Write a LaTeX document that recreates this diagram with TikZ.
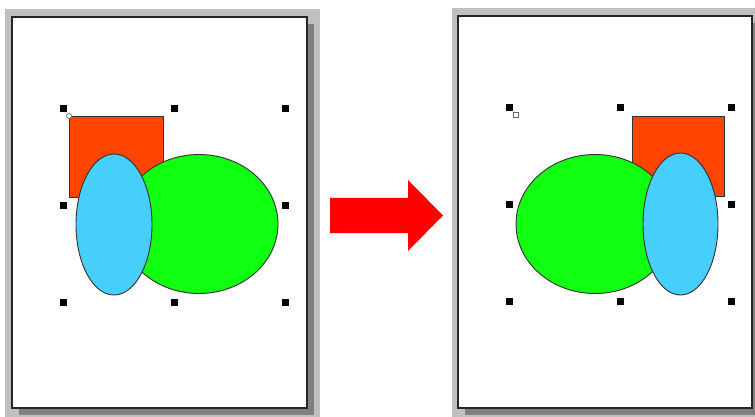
\documentclass[tikz,border=0pt]{standalone}
\usepackage{tikz}
\usetikzlibrary{calc}
\definecolor{framegray}{HTML}{C0C0C0}
\definecolor{shadowgray}{HTML}{808080}
\definecolor{rectred}{HTML}{FF4400}
\definecolor{ovalgreen}{HTML}{11FF11}
\definecolor{ovalblue}{HTML}{47CFFC}
\definecolor{arrowred}{HTML}{FF0000}

\begin{document}
\begin{tikzpicture}[x=0.0265cm, y=-0.0265cm, frame/.style={fill=framegray}, shadowbox/.style={fill=shadowgray}, page/.style={draw=black!85, fill=white, line width=1.1pt}, outline/.style={draw=black!80, line width=0.7pt}, handle/.style={fill=black}]
\useasboundingbox (0,0) rectangle (755,417);
% left panel: before
\fill[frame] (5,9) rectangle (320,417);
\fill[shadowbox] (19,24) rectangle (314,415);
\draw[page] (12,17) rectangle (307,408);
\draw[outline, fill=rectred] (69,116) rectangle (163,197);
\draw[outline, fill=ovalgreen] (199,224) ellipse [x radius=79, y radius=69.5];
\draw[outline, fill=ovalblue] (114,224.5) ellipse [x radius=38, y radius=70.5];
\foreach \hx/\hy in {63/109,174/109,285/109,63/206,285/206,63/302,174/302,285/302}
  \fill[handle] (\hx-3.5,\hy-3.5) rectangle (\hx+3.5,\hy+3.5);
\draw[draw=black!50, fill=white, line width=0.7pt] (69,116) circle [radius=2.5];
% arrow
\fill[arrowred] (330,198) -- (408,198) -- (408,180) -- (443,215.5) -- (408,251) -- (408,233) -- (330,233) -- cycle;
% right panel: after
\fill[frame] (452,8) rectangle (755,417);
\fill[shadowbox] (465,23) rectangle (759,415);
\draw[page] (458,16) rectangle (752,408);
\draw[outline, fill=rectred] (632,116) rectangle (724,196);
\draw[outline, fill=ovalgreen] (595,224) ellipse [x radius=79, y radius=69.5];
\draw[outline, fill=ovalblue] (680.5,224) ellipse [x radius=37.5, y radius=71];
\foreach \hx/\hy in {509/108,620/108,731/108,509/205,731/205,509/301,620/301,731/301}
  \fill[handle] (\hx-3.5,\hy-3.5) rectangle (\hx+3.5,\hy+3.5);
\draw[draw=black!60, fill=white, line width=0.7pt] (513.5,112.5) rectangle (518.5,117.5);
\end{tikzpicture}
\end{document}
